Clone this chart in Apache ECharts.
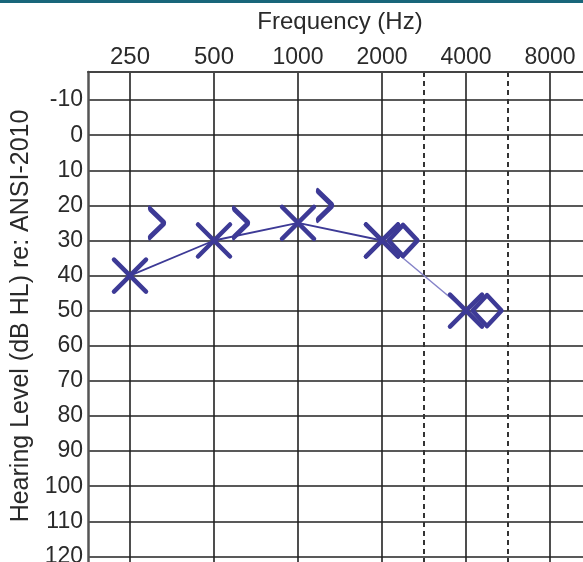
<!DOCTYPE html>
<html>
<head>
<meta charset="utf-8">
<script src="https://cdn.jsdelivr.net/npm/echarts@6/dist/echarts.min.js"></script>
<style>html,body{margin:0;padding:0;background:#fff}#c{width:583px;height:562px}</style>
</head>
<body>
<div id="c"></div>
<script>
// ---- data ----
const freqLabels = ['250', '500', '1000', '2000', '4000', '8000'];
const interOctaveFreqs = [3000, 6000];
const dbTicks = [-10, 0, 10, 20, 30, 40, 50, 60, 70, 80, 90, 100, 110, 120];
const airFreq = [250, 500, 1000, 2000, 4000];
const airDb = [40, 30, 25, 30, 50];
const boneFreq = [250, 500, 1000];
const boneDb = [25, 25, 20];
const diamondFreq = [2000, 4000];
const diamondDb = [30, 50];

// audiogram x position: octave index (inter-octaves midway)
function pos(f) {
  if (f === 3000) return 3.5;
  if (f === 6000) return 4.5;
  return Math.log2(f / 250);
}
const tickPos = freqLabels.map(s => pos(+s));
const interPos = interOctaveFreqs.map(pos);
const pts = (fs, ds) => fs.map((f, i) => [pos(f), ds[i]]);

const BLUE = '#3d3a96';
const xPath = 'path://M0,0L10,10M10,0L0,10';
const chevPath = 'path://M0,0L10,10L0,20';
const diaPath = 'path://M0,10L10,0L20,10L10,20Z';
const txt = '#2a2a2a';

const chart = echarts.init(document.getElementById('c'), null, {renderer: 'canvas'});
chart.setOption({
  animation: false,
  backgroundColor: '#fff',
  graphic: [{type: 'rect', left: 0, top: 0, shape: {width: 583, height: 3}, style: {fill: '#18667a'}}],
  grid: {left: 88, top: 72, width: 504, height: 502, containLabel: false, outerBoundsMode: 'none'},
  xAxis: [{
    type: 'value', position: 'top', min: -0.5, max: 5.5,
    name: 'Frequency (Hz)', nameLocation: 'middle', nameGap: 38,
    nameTextStyle: {fontFamily: 'Liberation Sans', fontSize: 24, color: txt},
    axisLine: {show: true, onZero: false, lineStyle: {color: '#444', width: 2}},
    axisTick: {show: false, customValues: tickPos},
    axisLabel: {
      customValues: tickPos, margin: 3, color: txt,
      formatter: v => { const s = freqLabels[Math.round(v)]; return s.length === 4 ? '{n|' + s + '}' : '{w|' + s + '}'; },
      rich: {
        w: {fontFamily: 'Liberation Sans', fontSize: 24, color: txt},
        n: {fontFamily: 'Liberation Sans', fontSize: 23, color: txt}
      }
    },
    splitLine: {show: true, lineStyle: {color: '#222', width: 1.6}}
  }, {
    type: 'value', position: 'top', min: -0.5, max: 5.5,
    axisLine: {show: false, onZero: false}, axisLabel: {show: false},
    axisTick: {show: false, customValues: interPos},
    splitLine: {show: true, lineStyle: {color: '#333', width: 2, type: [5, 4]}}
  }],
  yAxis: {
    type: 'value', inverse: true, min: -18, max: 125,
    name: 'Hearing Level (dB HL) re: ANSI-2010', nameLocation: 'middle', nameGap: 49, nameRotate: 90,
    nameTextStyle: {fontFamily: 'Liberation Sans', fontSize: 25, color: txt, padding: [0, 0, 0, 14]},
    axisLine: {show: true, onZero: false, lineStyle: {color: '#555', width: 2.5}},
    axisTick: {show: false, customValues: dbTicks},
    axisLabel: {customValues: dbTicks, margin: 5, color: txt, fontFamily: 'Liberation Sans', fontSize: 23},
    splitLine: {show: true, lineStyle: {color: '#222', width: 1.6}}
  },
  series: [{
    type: 'line', data: pts(airFreq.slice(0, 4), airDb.slice(0, 4)),
    symbol: xPath, symbolSize: 32, z: 5,
    lineStyle: {color: BLUE, width: 1.8},
    itemStyle: {color: 'rgba(0,0,0,0)', borderColor: BLUE, borderWidth: 4.5, borderCap: 'round', opacity: 1},
    emphasis: {disabled: true}
  }, {
    type: 'line', data: pts(airFreq.slice(3), airDb.slice(3)),
    symbol: xPath, symbolSize: 32, z: 5,
    lineStyle: {color: '#8583c8', width: 1.5},
    itemStyle: {color: 'rgba(0,0,0,0)', borderColor: BLUE, borderWidth: 4.5, borderCap: 'round', opacity: 1},
    emphasis: {disabled: true}
  }, {
    type: 'scatter', data: pts(boneFreq, boneDb),
    symbol: chevPath, symbolSize: [15, 29], symbolOffset: [27, 0], z: 6,
    itemStyle: {color: 'rgba(0,0,0,0)', borderColor: BLUE, borderWidth: 4.5, borderCap: 'round', borderJoin: 'round', opacity: 1},
    emphasis: {disabled: true}
  }, {
    type: 'scatter', data: pts(diamondFreq, diamondDb),
    symbol: diaPath, symbolSize: [29, 31], symbolOffset: [21, 0], z: 6,
    itemStyle: {color: 'rgba(0,0,0,0)', borderColor: BLUE, borderWidth: 4.5, borderJoin: 'round', opacity: 1},
    emphasis: {disabled: true}
  }]
});
</script>
</body>
</html>
